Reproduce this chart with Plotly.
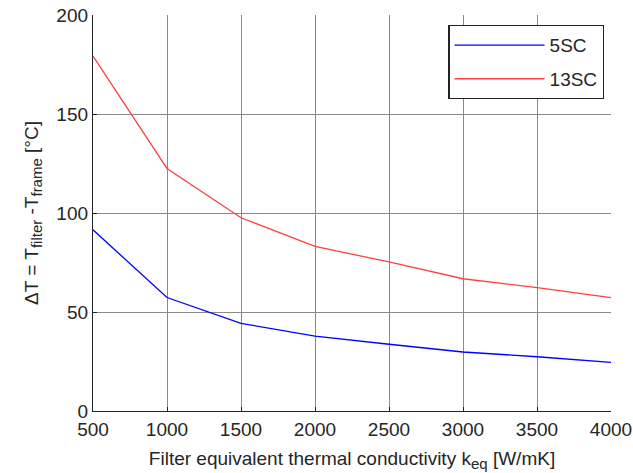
import plotly.graph_objects as go

k_eq = [500, 1000, 1500, 2000, 2500, 3000, 3500, 4000]
dT_5SC = [91.5, 57.3, 44.3, 37.8, 33.7, 29.8, 27.4, 24.6]
dT_13SC = [179.3, 122.5, 97.6, 83.1, 75.3, 66.8, 62.3, 57.3]
x_ticks = [500, 1000, 1500, 2000, 2500, 3000, 3500, 4000]
y_ticks = [0, 50, 100, 150, 200]

FONT = "Liberation Sans, Arial, sans-serif"
TXT = "#262626"

fig = go.Figure()
fig.add_trace(go.Scatter(x=k_eq, y=dT_5SC, mode="lines", name="5SC", legendgroup="a",
                         line=dict(color="#0000ff", width=1.3)))
fig.add_trace(go.Scatter(x=k_eq, y=dT_13SC, mode="lines", name="13SC", legendgroup="b",
                         line=dict(color="#ff4040", width=1.3)))

axis_common = dict(showgrid=True, gridcolor="#8a8a8a", gridwidth=1,
                   showline=True, linecolor="#222", linewidth=1.3,
                   ticks="inside", ticklen=4, tickcolor="#222",
                   zeroline=False, automargin=False,
                   tickfont=dict(family=FONT, size=19, color=TXT))

sub = lambda s: '<sub><span style="font-size:15px">' + s + '</span></sub>'

fig.update_xaxes(range=[500, 4000], tickvals=x_ticks, ticktext=[str(v) for v in x_ticks],
                 ticklabelstandoff=1,
                 title=dict(text="Filter equivalent thermal conductivity k" + sub("eq") + " [W/mK]",
                            font=dict(family=FONT, size=19, color=TXT), standoff=12),
                 **axis_common)
fig.update_yaxes(range=[0, 200], tickvals=y_ticks, ticktext=[str(v) for v in y_ticks],
                 title=dict(text="\u0394T = T" + sub("filter") + " -T" + sub("frame") + " [\u00b0C]",
                            font=dict(family=FONT, size=19, color=TXT), standoff=12),
                 **axis_common)

fig.update_layout(
    width=633, height=473,
    margin=dict(l=93, r=22, t=15, b=62),
    plot_bgcolor="white", paper_bgcolor="white",
    showlegend=True,
    legend=dict(x=0.987, y=0.975, xanchor="right", yanchor="top",
                bgcolor="white", bordercolor="#222", borderwidth=1.3,
                font=dict(family=FONT, size=19, color=TXT),
                itemwidth=90, tracegroupgap=6),
)

fig.write_html("out.html")
